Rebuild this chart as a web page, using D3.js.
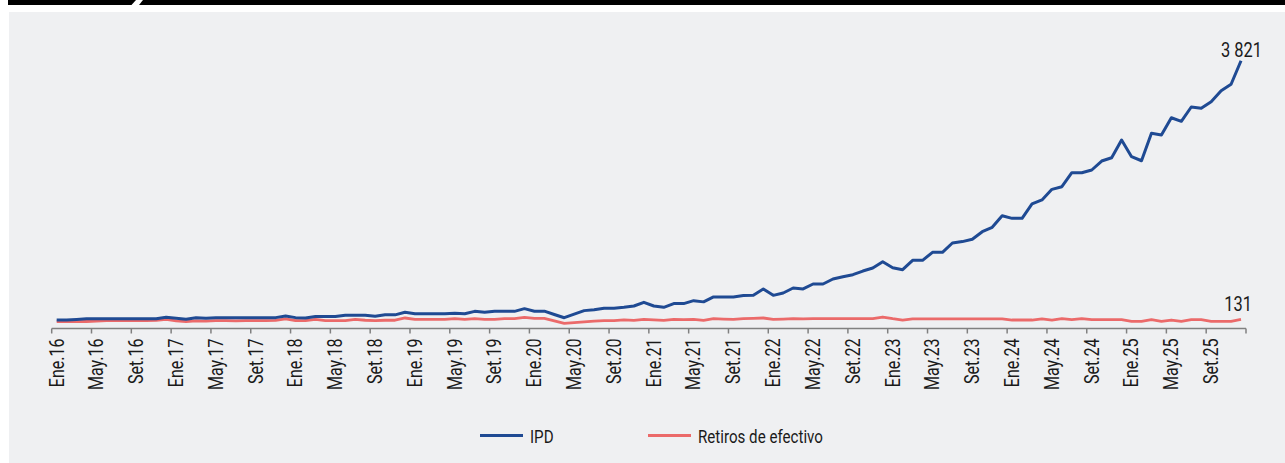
<!DOCTYPE html>
<html><head><meta charset="utf-8">
<script src="https://cdn.jsdelivr.net/npm/d3@7"></script>
<style>
html,body{margin:0;padding:0;background:#fff;}
svg{display:block;}
text{font-family:Roboto,"Noto Sans",sans-serif;fill:#1a1a1a;}
</style></head>
<body>
<svg id="chart" width="1285" height="463"></svg>
<script>
const months = ["Ene","Feb","Mar","Abr","May","Jun","Jul","Ago","Set","Oct","Nov","Dic"];
const years = ["16","17","18","19","20","21","22","23","24","25"];
const categories = years.flatMap(y => months.map(m => m + "." + y));

const ipd = [
  121, 122, 130, 140, 138, 138, 138, 138, 138, 140,
  140, 160, 145, 131, 154, 145, 152, 152, 152, 152,
  152, 152, 155, 178, 155, 150, 170, 170, 172, 190,
  190, 190, 176, 195, 195, 231, 212, 210, 210, 210,
  218, 210, 245, 233, 245, 245, 245, 283, 247, 247,
  200, 154, 205, 255, 268, 290, 290, 302, 321, 374,
  321, 302, 355, 355, 397, 380, 450, 450, 450, 470,
  473, 564, 473, 507, 578, 565, 635, 635, 706, 739,
  768, 820, 863, 953, 868, 839, 973, 973, 1087, 1087,
  1220, 1240, 1273, 1381, 1444, 1610, 1572, 1572, 1777, 1834,
  1986, 2023, 2223, 2223, 2262, 2390, 2437, 2690, 2452, 2394,
  2785, 2761, 3008, 2957, 3161, 3142, 3236, 3393, 3485, 3821
];
const retiros = [
  97, 97, 97, 100, 105, 111, 111, 111, 111, 111,
  115, 131, 110, 97, 110, 105, 111, 111, 108, 111,
  111, 111, 115, 136, 111, 111, 131, 111, 111, 111,
  131, 118, 111, 118, 118, 150, 131, 131, 131, 131,
  140, 131, 140, 131, 131, 140, 140, 160, 145, 145,
  110, 74, 83, 95, 105, 111, 111, 124, 117, 131,
  124, 117, 131, 128, 131, 117, 140, 135, 131, 140,
  145, 150, 131, 135, 140, 137, 140, 140, 140, 140,
  140, 140, 140, 164, 140, 121, 136, 136, 136, 136,
  136, 136, 136, 136, 136, 136, 121, 121, 121, 136,
  121, 140, 126, 140, 126, 126, 126, 126, 103, 103,
  126, 103, 121, 103, 126, 126, 103, 103, 103, 131
];
const seriesNames = ["IPD", "Retiros de efectivo"];
const seriesColors = ["#1f4a93", "#eb6a6a"];
const tickStep = 4;

const svg = d3.select("#chart");

// measure horizontal condensing factor so that the legend text has the reference width
const probe = svg.append("text").style("font-size", "18.4px").text(seriesNames[1]);
const sx = 125 / probe.node().getComputedTextLength();
probe.remove();

// frame: top black bar with slash, grey panel
svg.append("rect").attr("x", 9).attr("y", 12).attr("width", 1276).attr("height", 451).attr("fill", "#eff0f2");
svg.append("path").attr("d", "M8,0 L136,0 L131.5,5 L8,5 Z").attr("fill", "#000");
svg.append("path").attr("d", "M143,0 L1285,0 L1285,5 L139,5 Z").attr("fill", "#000");

const x = d3.scaleBand().domain(categories).range([51.7, 1246]).padding(0);
const xc = c => x(c) + x.bandwidth() / 2;
const y = d3.scaleLinear().domain([0, 4000]).range([328.5, 48.2]);

// axis
const axisY = y(0);
const g = svg.append("g");
g.append("line").attr("x1", x.range()[0]).attr("x2", x.range()[1]).attr("y1", axisY).attr("y2", axisY)
  .attr("stroke", "#808080").attr("stroke-width", 1.5);
const tickCats = categories.filter((c, i) => i % tickStep === 0);
const tickPos = tickCats.map(c => x(c)).concat([x.range()[1]]);
g.selectAll("line.tick").data(tickPos).join("line").attr("class", "tick")
  .attr("x1", d => d).attr("x2", d => d).attr("y1", axisY).attr("y2", axisY + 5)
  .attr("stroke", "#808080").attr("stroke-width", 1.5);
g.selectAll("text.tl").data(tickCats).join("text").attr("class", "tl")
  .attr("transform", d => `translate(${xc(d)},${axisY + 10}) rotate(-90) scale(${sx},1)`)
  .attr("text-anchor", "end").attr("dy", "0.35em")
  .style("font-size", "19.5px").text(d => d);

// lines
const line = d3.line().x((d, i) => xc(categories[i])).y(d => y(d));
[retiros, ipd].forEach((s, k) => {
  const idx = k === 0 ? 1 : 0;
  svg.append("path").datum(s).attr("d", line).attr("fill", "none")
    .attr("stroke", seriesColors[idx]).attr("stroke-width", idx === 0 ? 3 : 2.8)
    .attr("stroke-linejoin", "round");
});

// end labels
const last = categories.length - 1;
svg.append("text")
  .attr("transform", `translate(${xc(categories[last]) + 0.5},${y(ipd[last]) - 4}) scale(${sx},1)`)
  .attr("text-anchor", "middle").style("font-size", "20px")
  .text(d3.format(",")(ipd[last]).replace(",", " "));
svg.append("text")
  .attr("transform", `translate(${xc(categories[last]) - 3},${y(retiros[last]) - 8.5}) scale(${sx},1)`)
  .attr("text-anchor", "middle").style("font-size", "20px").text(retiros[last]);

// legend
const legX = [480, 648];
seriesNames.forEach((n, i) => {
  svg.append("line").attr("x1", legX[i]).attr("x2", legX[i] + 43).attr("y1", 435.5).attr("y2", 435.5)
    .attr("stroke", seriesColors[i]).attr("stroke-width", 3);
  svg.append("text").attr("transform", `translate(${legX[i] + 50},442.5) scale(${sx},1)`)
    .style("font-size", "18.4px").text(n);
});
</script>
</body></html>
